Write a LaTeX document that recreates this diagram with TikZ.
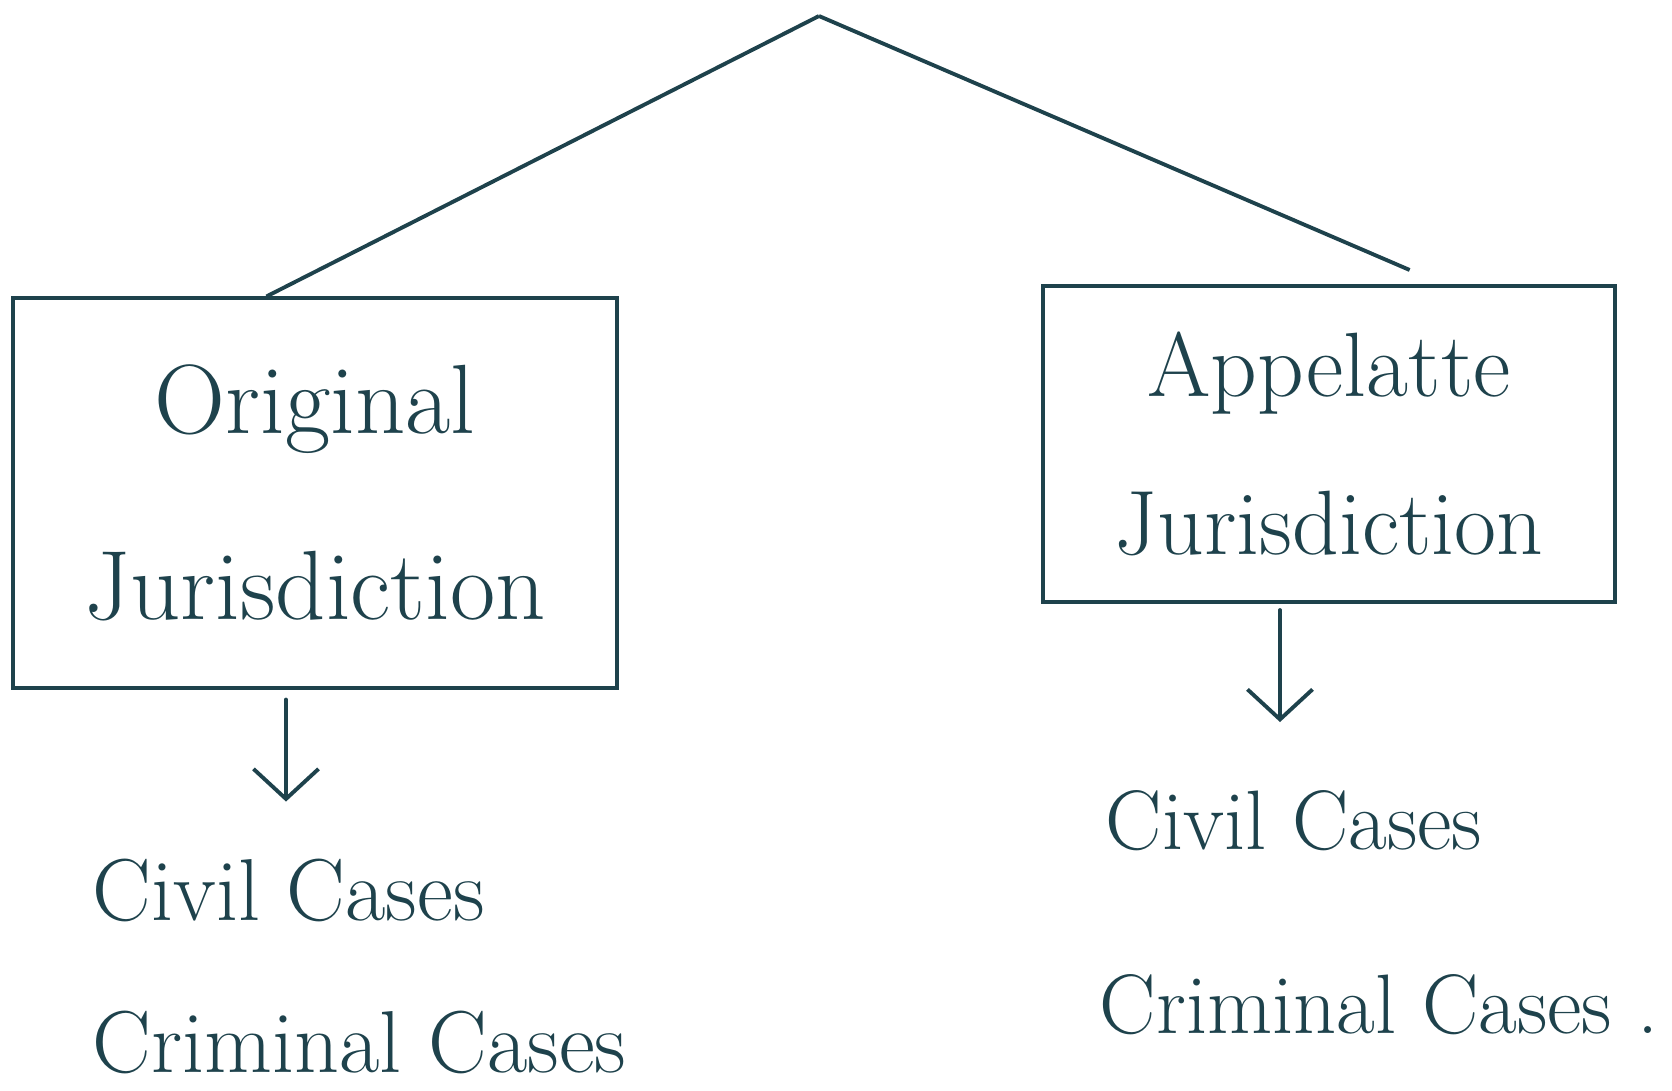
\documentclass[tikz,border=0pt]{standalone}
\usepackage{fontspec}
\usetikzlibrary{arrows.meta,calc,positioning}
\definecolor{ink}{RGB}{30,66,76}

\begin{document}
\begin{tikzpicture}[x=0.01cm, y=-0.01cm, line width=1.1pt, color=ink,
        courtbox/.style={draw, rectangle, align=center, inner sep=0pt},
        caselabel/.style={anchor=west, inner sep=0pt, font=\fontsize{25}{30}\selectfont},
        downarrow/.style={-{Straight Barb[length=3mm,width=6.5mm]}, line cap=round}]
        \useasboundingbox (0,0) rectangle (1672,1090);

        \coordinate (root) at (819,16);

        \node[courtbox, minimum width=6.03cm, minimum height=3.89cm,
              font=\fontsize{28}{53}\selectfont] (orig) at (315,493) {Original\\Jurisdiction};
        \node[courtbox, minimum width=5.72cm, minimum height=3.16cm,
              font=\fontsize{26}{45}\selectfont] (appl) at (1329,444) {Appelatte\\Jurisdiction};

        \coordinate (lend) at ($(orig.north west)!0.42!(orig.north east)$);
        \coordinate (rend) at ($(appl.north west)!0.64!(appl.north east) + (0,-14)$);

        \draw (lend) to (root);
        \draw (root) to (rend);

        % cases under each court
        \node[caselabel] (civl) at (91,890) {Civil Cases};
        \node[caselabel] (criml) at (91,1042) {Criminal Cases};
        \node[caselabel, font=\fontsize{24}{29}\selectfont] (civr) at (1104,821) {Civil Cases};
        \node[caselabel, font=\fontsize{24}{29}\selectfont] (crimr) at (1098,1005) {Criminal Cases .};

        \draw[downarrow] ($(orig.south)+(-29,10)$) to ++(0,102);
        \draw[downarrow] ($(appl.south)+(-49,6)$) to ++(0,112);
    \end{tikzpicture}
\end{document}
